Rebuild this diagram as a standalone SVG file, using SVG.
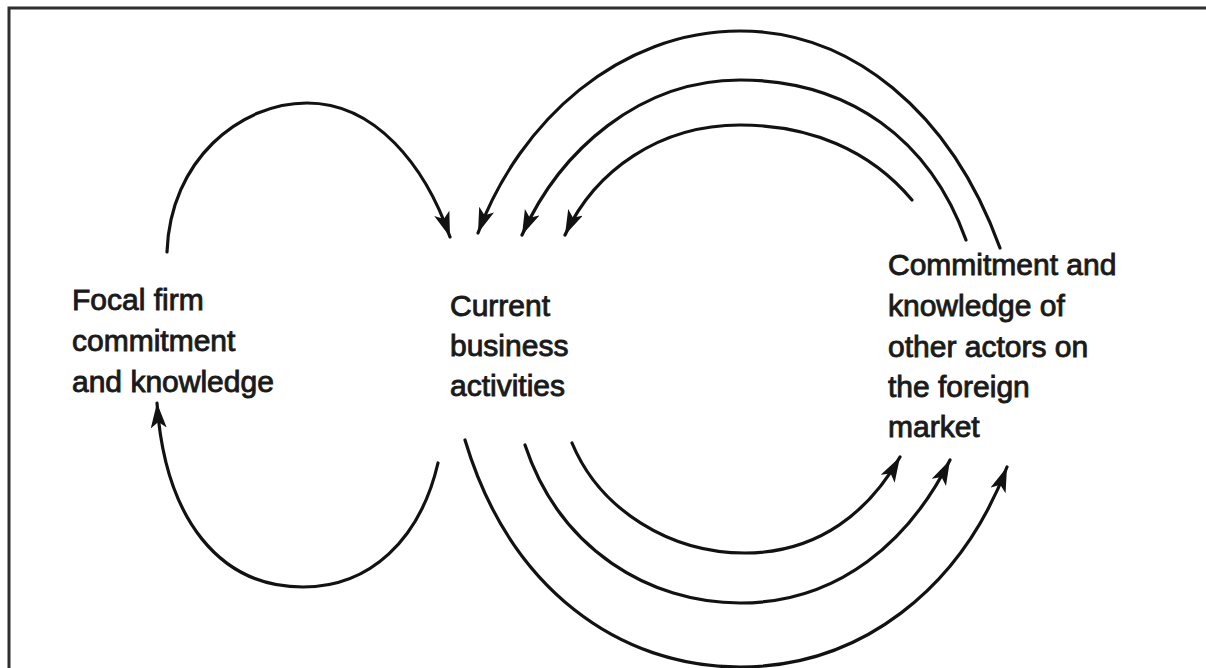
<svg xmlns="http://www.w3.org/2000/svg" width="1206" height="668" viewBox="0 0 1206 668">
  <style>
    .lbl { font-family: "Liberation Sans", Arial, sans-serif; font-size: 30px; fill: #1a1a1a; stroke: #1a1a1a; stroke-width: 0.9px; }
    .conn { fill: none; stroke: #121212; stroke-width: 3.2; stroke-linecap: round; marker-end: url(#arrow); }
    .frame { fill: none; stroke: #2e2e2e; stroke-width: 3; }
  </style>
  <defs>
    <marker id="arrow" markerUnits="userSpaceOnUse" markerWidth="30" markerHeight="20" refX="25" refY="8" orient="auto">
      <path d="M0,0 L25,8 L0,16 L6,8 z" fill="#121212"/>
    </marker>
  </defs>
  <rect width="1206" height="668" fill="#ffffff"/>
  <path class="frame" d="M9,668 L9,8 L1206,8"/>

  <g id="connectors">
    <path class="conn" d="M167,252 C170,160 240,103 307,103 C375,103 425,165 450,237"/>
    <path class="conn" d="M438,463 C420,540 370,587 303,587 C220,587 165,520 157,403"/>
    <path class="conn" d="M1000,248 C950,110 850,31 740,31 C620,31 520,120 478,233"/>
    <path class="conn" d="M966,240 C930,140 850,80 740,80 C640,80 560,150 522,235"/>
    <path class="conn" d="M912,200 C870,150 810,125 740,125 C660,125 595,170 565,235"/>
    <path class="conn" d="M572,443 C600,510 670,553 745,553 C820,553 870,510 900,457"/>
    <path class="conn" d="M525,445 C560,550 650,603 740,603 C840,603 910,540 950,460"/>
    <path class="conn" d="M465,440 C510,590 620,667 740,667 C860,667 960,590 1007,467"/>
  </g>

  <g id="node-focal">
    <text class="lbl" x="72" y="310">Focal firm</text>
    <text class="lbl" x="72" y="351">commitment</text>
    <text class="lbl" x="72" y="392">and knowledge</text>
  </g>
  <g id="node-current">
    <text class="lbl" x="450" y="316">Current</text>
    <text class="lbl" x="450" y="356">business</text>
    <text class="lbl" x="450" y="396">activities</text>
  </g>
  <g id="node-others">
    <text class="lbl" x="888" y="275">Commitment and</text>
    <text class="lbl" x="888" y="316">knowledge of</text>
    <text class="lbl" x="888" y="357">other actors on</text>
    <text class="lbl" x="888" y="397">the foreign</text>
    <text class="lbl" x="888" y="437">market</text>
  </g>
</svg>
